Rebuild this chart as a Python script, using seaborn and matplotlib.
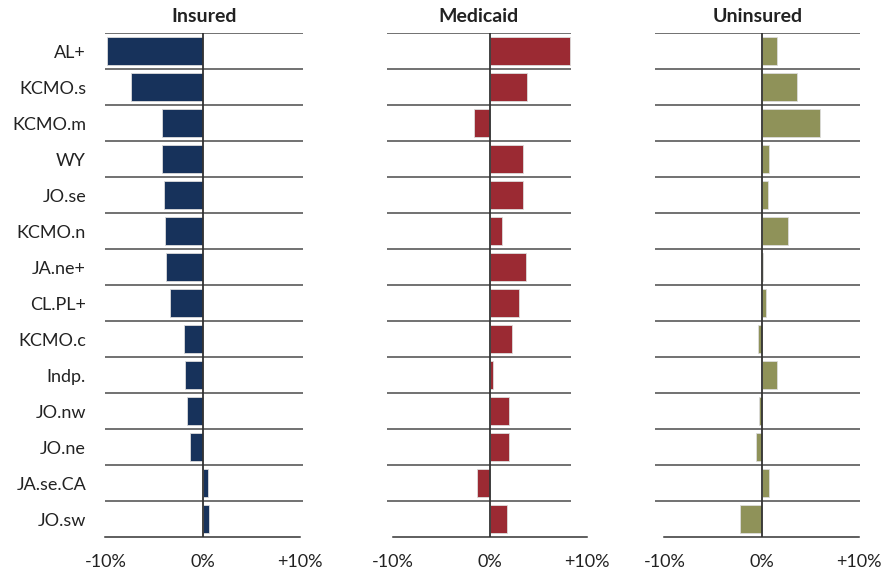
import numpy as np
import pandas as pd
import matplotlib
matplotlib.use("Agg")
import matplotlib.pyplot as plt
import seaborn as sns

# data (percentage point change)
areas = ["AL+", "KCMO.s", "KCMO.m", "WY", "JO.se", "KCMO.n", "JA.ne+",
         "CL.PL+", "KCMO.c", "Indp.", "JO.nw", "JO.ne", "JA.se.CA", "JO.sw"]
insured = [-9.8, -7.4, -4.2, -4.2, -4.0, -3.9, -3.8,
           -3.4, -1.95, -1.8, -1.65, -1.3, 0.55, 0.6]
medicaid = [8.2, 3.8, -1.65, 3.4, 3.4, 1.2, 3.7,
            3.0, 2.3, 0.27, 1.95, 1.95, -1.3, 1.7]
uninsured = [1.6, 3.6, 6.0, 0.8, 0.6, 2.7, 0.1,
             0.45, -0.35, 1.55, -0.25, -0.6, 0.8, -2.2]

panel_names = ["Insured", "Medicaid", "Uninsured"]
panel_colors = ["#17325B", "#9B2A33", "#8F9259"]
tick_vals = [-10, 0, 10]
tick_text = ["-10%", "0%", "+10%"]

sns.set_style("white")
plt.rcParams["font.family"] = ["Lato", "DejaVu Sans"]

df = pd.DataFrame({"area": areas, "Insured": insured,
                   "Medicaid": medicaid, "Uninsured": uninsured})

fig = plt.figure(figsize=(8.86, 5.71), dpi=100)

# every panel shares the same scale; only the row rules differ in length
lefts = [0.1081, 0.4324, 0.7390]
xlim = (-11.0, 10.4)
rule_ext = [(-10.0, 10.35), (-10.63, 8.3), (-10.98, 10.14)]

for k, name in enumerate(panel_names):
    ax = fig.add_axes([lefts[k], 0.0595, 0.2348, 0.8827])
    sns.barplot(data=df, x=name, y="area", orient="h", color=panel_colors[k],
                width=0.76, edgecolor="#dcdcdc", linewidth=0.6,
                saturation=1, ax=ax)

    ax.set_xticks(tick_vals)
    ax.set_xticklabels(tick_text, fontsize=13, color="#222222")
    ax.tick_params(axis="x", direction="out", length=10, width=1.1,
                   color="#333333", pad=2)
    ax.xaxis.get_major_ticks()[1].tick1line.set_visible(False)
    ax.tick_params(axis="y", length=0, pad=7)

    ax.set_xlim(*xlim)
    ax.set_ylim(len(areas) - 0.5, -0.5)

    # row separators
    lo, hi = rule_ext[k]
    ax.hlines(np.arange(len(areas)) - 0.5, lo, hi, color="#4a4a4a",
              lw=1.1, zorder=1)
    ax.axvline(0, color="#333333", lw=1.3, zorder=3)

    for s in ["top", "right", "left"]:
        ax.spines[s].set_visible(False)
    ax.spines["bottom"].set_bounds(-10, 10)
    ax.spines["bottom"].set_color("#333333")
    ax.spines["bottom"].set_linewidth(1.1)

    if k == 0:
        ax.set_yticks(range(len(areas)))
        ax.set_yticklabels(areas, fontsize=13, color="#222222")
    else:
        ax.set_yticklabels([])
    ax.set_xlabel("")
    ax.set_ylabel("")
    ax.annotate(name, xy=((lo + hi) / 2, 1), xycoords=("data", "axes fraction"),
                xytext=(0, 6), textcoords="offset points", ha="center",
                va="bottom", fontsize=14, fontweight="bold", color="#222222")

fig.savefig("out.png", dpi=100)
